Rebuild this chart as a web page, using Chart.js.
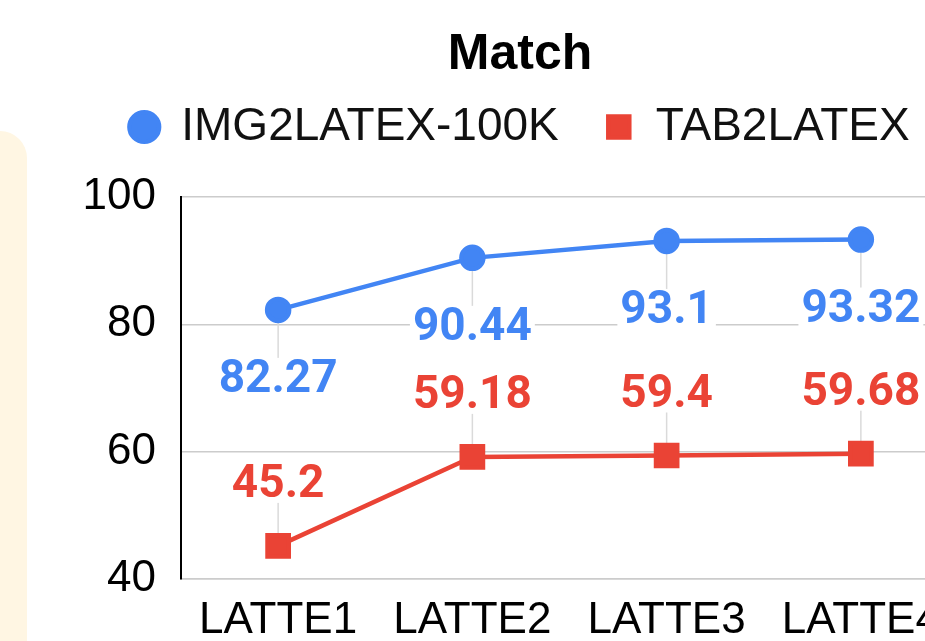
<!DOCTYPE html>
<html>
<head>
<meta charset="utf-8">
<script src="https://cdn.jsdelivr.net/npm/chart.js@4.4.1/dist/chart.umd.min.js"></script>
<style>
  html, body { margin: 0; padding: 0; background: #fff; width: 925px; height: 641px; overflow: hidden; }
  #panel { position: absolute; left: 0; top: 131px; width: 27px; height: 560px; background: #FFF6E3; border-top-right-radius: 27px; }
  #c { position: absolute; left: 0; top: 0; }
</style>
</head>
<body>
<div id="panel"></div>
<canvas id="c" width="1040" height="641"></canvas>
<script>
const categories = ["LATTE1", "LATTE2", "LATTE3", "LATTE4"];
const img2latexValues = [82.27, 90.44, 93.1, 93.32];
const tab2latexValues = [45.2, 59.18, 59.4, 59.68];
const yTicks = [40, 60, 80, 100];
const seriesNames = ["IMG2LATEX-100K", "TAB2LATEX"];
const chartTitle = "Match";

const BLUE = "#4285F4";
const RED = "#EA4335";

// Data label plugin: leader lines + labels with white background
const labelPlugin = {
  id: "valueLabels",
  beforeDatasetsDraw(chart) {
    const ctx = chart.ctx;
    ctx.save();
    ctx.strokeStyle = "#dadada";
    ctx.lineWidth = 1.5;
    chart.data.datasets.forEach((ds, di) => {
      const meta = chart.getDatasetMeta(di);
      const off = ds.labelOffset;
      meta.data.forEach(pt => {
        ctx.beginPath();
        ctx.moveTo(pt.x, pt.y);
        ctx.lineTo(pt.x, pt.y + off);
        ctx.stroke();
      });
    });
    ctx.restore();
  },
  afterDatasetsDraw(chart) {
    const ctx = chart.ctx;
    ctx.save();
    ctx.font = "700 46px Roboto";
    ctx.textAlign = "center";
    ctx.textBaseline = "middle";
    chart.data.datasets.forEach((ds, di) => {
      const meta = chart.getDatasetMeta(di);
      const off = ds.labelOffset;
      meta.data.forEach((pt, i) => {
        const txt = String(ds.data[i]);
        const w = ctx.measureText(txt).width;
        const cy = pt.y + off;
        ctx.fillStyle = "#ffffff";
        ctx.fillRect(pt.x - w / 2 - 3, cy - 21, w + 6, 40);
        ctx.fillStyle = ds.borderColor;
        ctx.fillText(txt, pt.x, cy + 2);
      });
    });
    ctx.restore();
  }
};

new Chart(document.getElementById("c"), {
  type: "line",
  data: {
    labels: categories,
    datasets: [
      {
        label: seriesNames[0],
        data: img2latexValues,
        borderColor: BLUE,
        backgroundColor: BLUE,
        borderWidth: 4.5,
        pointStyle: "circle",
        pointRadius: 11,
        pointHoverRadius: 11,
        tension: 0,
        labelOffset: 69
      },
      {
        label: seriesNames[1],
        data: tab2latexValues,
        borderColor: RED,
        backgroundColor: RED,
        borderWidth: 4.5,
        pointStyle: "rect",
        pointRadius: 15,
        pointHoverRadius: 15,
        tension: 0,
        labelOffset: -62
      }
    ]
  },
  options: {
    responsive: false,
    animation: false,
    events: [],
    layout: { padding: { left: 82, right: 82, top: 0, bottom: 0 } },
    plugins: {
      title: {
        display: true,
        text: chartTitle,
        color: "#000",
        font: { family: "'Liberation Sans', Arial, sans-serif", size: 50, weight: "bold", lineHeight: 1.2 },
        padding: { top: 25, bottom: -27 }
      },
      subtitle: {
        display: true,
        text: " ",
        weight: 500,
        font: { size: 10, lineHeight: 1 },
        padding: { top: 27, bottom: 0 }
      },
      legend: {
        display: true,
        position: "top",
        labels: {
          usePointStyle: true,
          boxWidth: 28,
          boxHeight: 21,
          padding: 46,
          color: "#111",
          font: { family: "'Liberation Sans', Arial, sans-serif", size: 46 }
        }
      },
      tooltip: { enabled: false }
    },
    scales: {
      x: {
        offset: true,
        grid: { display: false, drawTicks: false, offset: true },
        border: { display: true, color: "#cccccc", width: 1.5 },
        ticks: {
          color: "#000",
          padding: 15,
          maxRotation: 0,
          font: { family: "'Liberation Sans', Arial, sans-serif", size: 44 }
        },
        afterFit(scale) { scale.height = 62; }
      },
      y: {
        min: 40,
        max: 100,
        afterBuildTicks(scale) { scale.ticks = yTicks.map(v => ({ value: v })); },
        grid: { color: "#cccccc", lineWidth: 1.5, drawTicks: false },
        border: { display: true, color: "#000", width: 2 },
        ticks: {
          color: "#000",
          padding: 25,
          font: { family: "'Liberation Sans', Arial, sans-serif", size: 44 }
        },
        afterFit(scale) { scale.width = 99; }
      }
    }
  },
  plugins: [labelPlugin]
});
</script>
</body>
</html>
